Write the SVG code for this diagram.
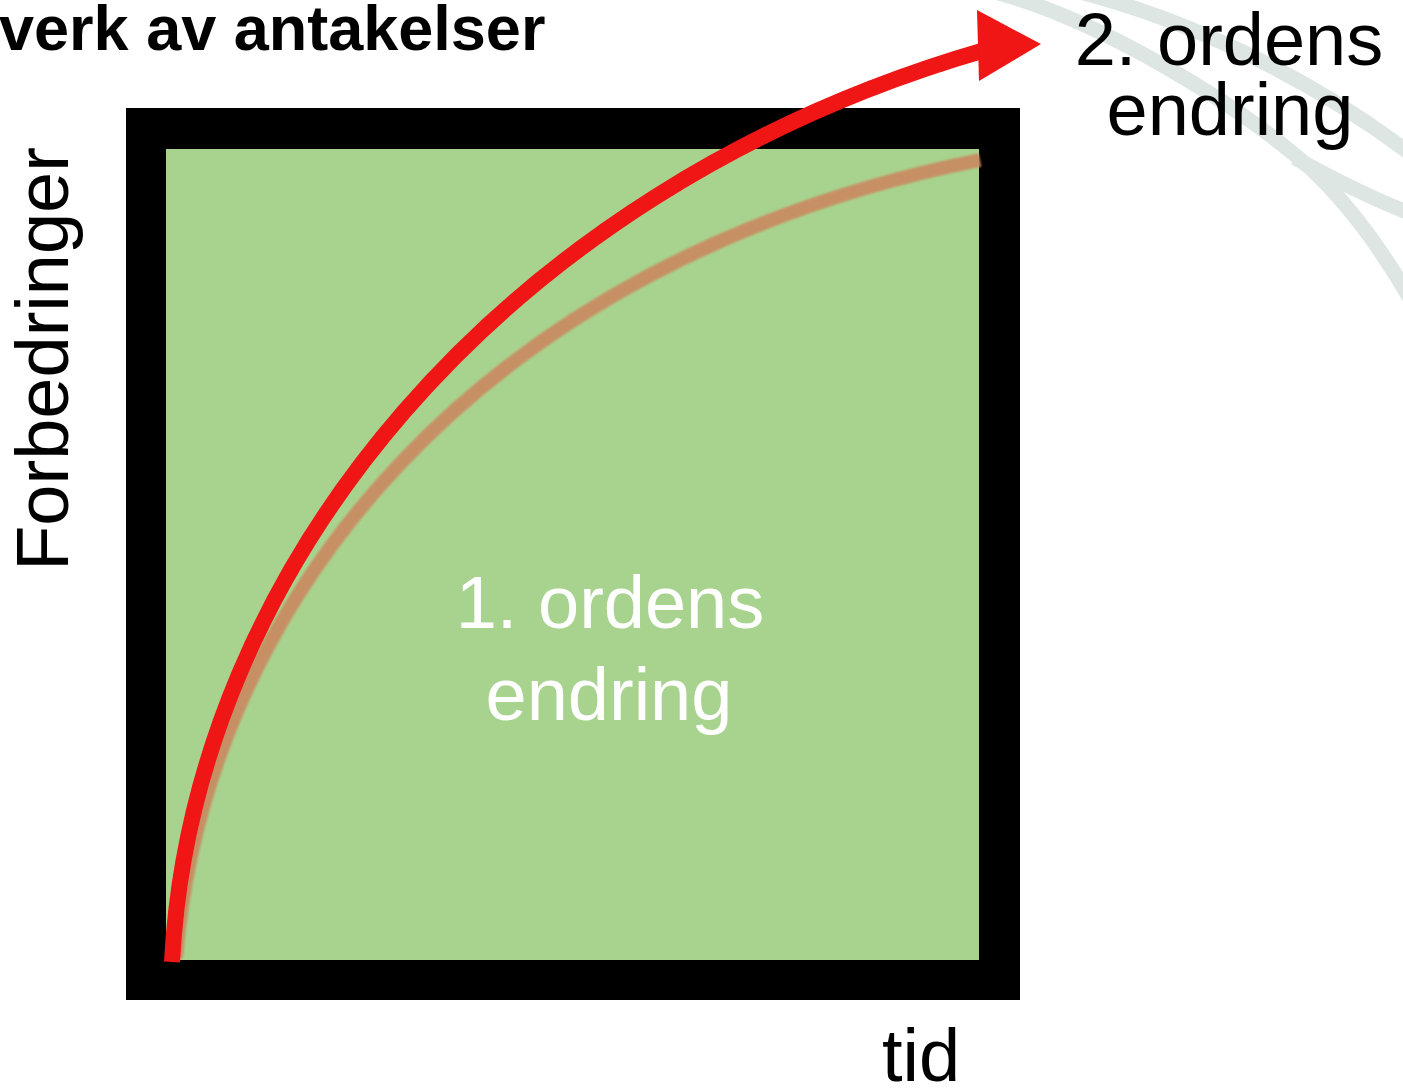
<svg xmlns="http://www.w3.org/2000/svg" width="1403" height="1089" viewBox="0 0 1403 1089">
<style>
  .t { font-family: "Liberation Sans", Arial, sans-serif; font-size: 74px; fill: #000; }
  .w { fill: #ffffff; }
  .mid { text-anchor: middle; }
  .title { font-family: "Liberation Sans", Arial, sans-serif; font-size: 63px; font-weight: bold; fill: #000; }
  .deco { fill: none; stroke: #dde6e3; stroke-width: 15; }
</style>
<defs>
  <filter id="soft" x="-5%" y="-5%" width="110%" height="110%">
    <feGaussianBlur stdDeviation="1.2"/>
  </filter>
  <filter id="soft2" x="-5%" y="-5%" width="110%" height="110%">
    <feGaussianBlur stdDeviation="0.7"/>
  </filter>
</defs>
<rect width="1403" height="1089" fill="#ffffff"/>
<g id="background-arcs">
  <path class="deco" d="M1080,-8 C1180,18 1300,70 1412,155"/>
  <path class="deco" d="M995,-8 C1100,20 1240,105 1310,168 C1350,205 1385,255 1412,302"/>
  <path class="deco" stroke-width="13" d="M1295,158 C1335,180 1370,198 1412,214"/>
</g>
<g id="title">
  <text class="title" x="-1" y="50">verk av antakelser</text>
</g>
<g id="frame">
  <rect x="126" y="108" width="894" height="892" fill="#000"/>
  <rect x="166" y="149" width="813" height="811" fill="#a8d38f"/>
</g>
<g id="first-order-label">
  <text class="t w mid" x="610" y="628">1. ordens</text>
  <text class="t w mid" x="609" y="720">endring</text>
</g>
<g id="connectors">
  <path id="first-order-curve" d="M176,958 C205,600 480,260 980,160" fill="none" stroke="#c98c62" stroke-width="14" filter="url(#soft)" opacity="0.95"/>
  <path id="second-order-curve" d="M172,962 C192,570 500,190 985,50" fill="none" stroke="#f01414" stroke-width="16" filter="url(#soft2)"/>
  <polygon points="977,10 1041,44 979,81" fill="#f01414" filter="url(#soft2)"/>
</g>
<g id="second-order-label">
  <text class="t mid" x="1229" y="65">2. ordens</text>
  <text class="t mid" x="1230" y="135">endring</text>
</g>
<g id="y-axis-label">
  <text class="t mid" transform="translate(68,359) rotate(-90)">Forbedringer</text>
</g>
<g id="x-axis-label">
  <text class="t" x="882" y="1081">tid</text>
</g>
</svg>
